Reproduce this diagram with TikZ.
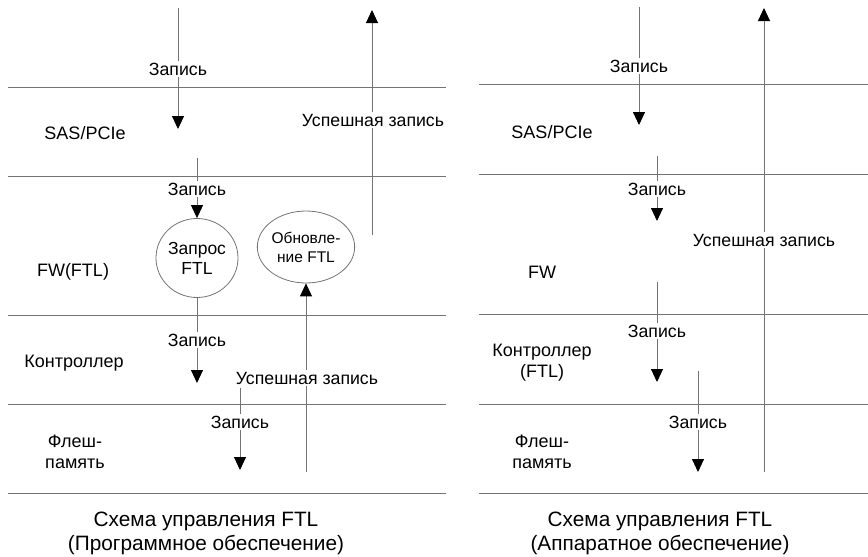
\documentclass[tikz,border=0pt]{standalone}
\usepackage{fontspec}
\setmainfont{Liberation Sans}
\usetikzlibrary{arrows.meta,shapes.geometric}
\begin{document}
\begin{tikzpicture}[x=1pt,y=-1pt,
  layer/.style={draw=black!55, line width=0.9pt},
  arr/.style={draw=black!55, line width=0.9pt, -{Triangle[length=13pt,width=12pt,color=black]}},
  lbl/.style={fill=white, inner sep=1.5pt, font=\fontsize{17.7}{20}\selectfont},
  lay/.style={align=center, inner sep=0pt, font=\fontsize{18}{21}\selectfont},
  ttl/.style={align=center, inner sep=0pt, font=\fontsize{20.8}{24}\selectfont},
  circ/.style={draw=black!55, line width=0.8pt, ellipse, inner sep=0pt, align=center}
]
\useasboundingbox (0,0) rectangle (868,557);
% ---------- left panel: layer lines ----------
\foreach \yy/\n in {87/L1,176/L2,315/L3,404/L4,493/L5}{
  \coordinate (\n a) at (8,\yy); \coordinate (\n b) at (446,\yy);
  \draw[layer] (\n a) -- (\n b);
}
% ---------- right panel: layer lines ----------
\foreach \yy/\n in {84/R1,174/R2,314/R3,404/R4,493/R5}{
  \coordinate (\n a) at (479,\yy); \coordinate (\n b) at (868,\yy);
  \draw[layer] (\n a) -- (\n b);
}
% ---------- left panel ----------
\node[lay] (lsas) at (85,133) {SAS/PCIe};
\node[lay] (lfw) at (73,272) {FW(FTL)};
\node[lay] (lctl) at (74,363) {Контроллер};
\node[lay] (lfl) at (75,452) {Флеш-\\память};
\node[circ, minimum width=81pt, minimum height=79pt, font=\fontsize{17.5}{20}\selectfont] (c1) at (197,258) {Запрос\\FTL};
\node[circ, minimum width=80pt, minimum height=72pt, font=\fontsize{15.5}{19}\selectfont] (c2) at (306,247) {Обновле-\\ние FTL};
% arrow 1
\coordinate (la1s) at (178,8); \coordinate (la1e) at (178,129);
\draw[arr] (la1s) -- (la1e);
\node[lbl] (la1l) at (178,69) {Запись};
% arrow 2
\coordinate (la2s) at (197,158);
\draw[arr] (la2s) -- (c1);
\node[lbl] (la2l) at (197,189) {Запись};
% up arrow success
\coordinate (la3s) at (372,235); \coordinate (la3e) at (372,10);
\draw[arr] (la3s) -- (la3e);
\node[lbl] (la3l) at (373,120) {Успешная запись};
% arrow 4
\coordinate (la4e) at (197,383);
\draw[arr] (c1) -- (la4e);
\node[lbl] (la4l) at (197,340) {Запись};
% arrow 5 up to c2
\coordinate (la5s) at (306,472);
\draw[arr] (la5s) -- (c2);
\node[lbl] (la5l) at (307,378) {Успешная запись};
% arrow 6
\coordinate (la6s) at (240,388); \coordinate (la6e) at (240,470);
\draw[arr] (la6s) -- (la6e);
\node[lbl] (la6l) at (240,422) {Запись};
% title
\node[ttl] (lt) at (206,533) {Схема управления FTL\\(Программное обеспечение)};
% ---------- right panel ----------
\node[lay] (rsas) at (552,132) {SAS/PCIe};
\node[lay] (rfw) at (542,272) {FW};
\node[lay] (rctl) at (542,363) {Контроллер\\(FTL)};
\node[lay] (rfl) at (542,452) {Флеш-\\память};
\coordinate (ra1s) at (639,7); \coordinate (ra1e) at (639,125);
\draw[arr] (ra1s) -- (ra1e);
\node[lbl] (ra1l) at (639,66) {Запись};
\coordinate (ra2s) at (657,156); \coordinate (ra2e) at (657,221);
\draw[arr] (ra2s) -- (ra2e);
\node[lbl] (ra2l) at (657,189) {Запись};
\coordinate (ra3s) at (764,472); \coordinate (ra3e) at (764,8);
\draw[arr] (ra3s) -- (ra3e);
\node[lbl] (ra3l) at (764,240) {Успешная запись};
\coordinate (ra4s) at (657,282); \coordinate (ra4e) at (657,382);
\draw[arr] (ra4s) -- (ra4e);
\node[lbl] (ra4l) at (657,331) {Запись};
\coordinate (ra5s) at (698,371); \coordinate (ra5e) at (698,472);
\draw[arr] (ra5s) -- (ra5e);
\node[lbl] (ra5l) at (698,422) {Запись};
\node[ttl] (rt) at (660,533) {Схема управления FTL\\(Аппаратное обеспечение)};
\end{tikzpicture}
\end{document}
